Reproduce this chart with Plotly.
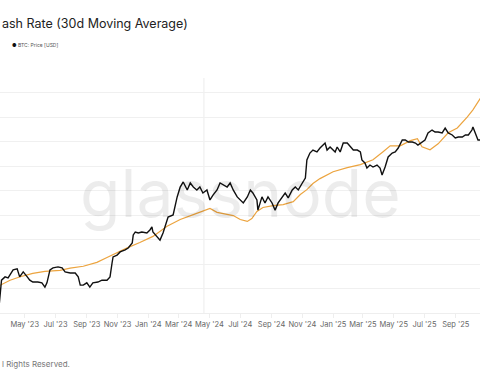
import plotly.graph_objects as go

# ---- data ----
btc_dates = ["2023-03-10","2023-03-13","2023-03-16","2023-03-23","2023-03-29","2023-04-08","2023-04-16","2023-04-21","2023-04-26","2023-04-28",
"2023-05-06","2023-05-11","2023-05-17","2023-05-27","2023-06-04","2023-06-10","2023-06-14","2023-06-20","2023-06-26","2023-07-06",
"2023-07-14","2023-07-20","2023-07-30","2023-08-09","2023-08-15","2023-08-19","2023-08-25","2023-09-01","2023-09-07","2023-09-13",
"2023-09-23","2023-10-01","2023-10-11","2023-10-17","2023-10-21","2023-10-23","2023-10-31","2023-11-06","2023-11-16","2023-11-22",
"2023-11-30","2023-12-02","2023-12-06","2023-12-12","2023-12-19","2023-12-29","2024-01-04","2024-01-08","2024-01-10","2024-01-18",
"2024-01-24","2024-01-30","2024-02-09","2024-02-19","2024-02-27","2024-03-04","2024-03-10","2024-03-18","2024-03-24","2024-03-30",
"2024-04-06","2024-04-12","2024-04-18","2024-04-26","2024-05-02","2024-05-08","2024-05-16","2024-05-22","2024-05-28","2024-06-05",
"2024-06-11","2024-06-17","2024-06-25","2024-07-01","2024-07-07","2024-07-15","2024-07-21","2024-07-26","2024-08-03","2024-08-05",
"2024-08-13","2024-08-19","2024-08-25","2024-09-02","2024-09-08","2024-09-14","2024-09-22","2024-09-28","2024-10-04","2024-10-12",
"2024-10-18","2024-10-24","2024-11-01","2024-11-07","2024-11-10","2024-11-16","2024-11-22","2024-11-30","2024-12-06","2024-12-16",
"2024-12-20","2024-12-26","2025-01-05","2025-01-09","2025-01-15","2025-01-21","2025-01-29","2025-02-04","2025-02-10","2025-02-18",
"2025-02-24","2025-02-27","2025-03-05","2025-03-09","2025-03-15","2025-03-21","2025-03-29","2025-04-04","2025-04-08","2025-04-14",
"2025-04-20","2025-04-28","2025-05-04","2025-05-10","2025-05-18","2025-05-24","2025-05-30","2025-06-07","2025-06-13","2025-06-18",
"2025-06-26","2025-07-02","2025-07-08","2025-07-16","2025-07-22","2025-07-28","2025-08-05","2025-08-11","2025-08-17","2025-08-25",
"2025-08-31","2025-09-06","2025-09-14","2025-09-20","2025-09-26","2025-10-03","2025-10-05","2025-10-09","2025-10-15","2025-10-21"]
btc_price = [20400,24600,27800,28700,28400,30700,31000,28700,29800,30100,
28700,27800,27300,27300,27100,26000,27100,30700,31300,31600,
31300,30100,29800,29800,28700,26500,26500,27100,26000,27100,
27300,27800,27800,28700,32800,34800,35400,36500,37200,37900,
39800,43000,44200,43800,44200,43800,45100,46400,44200,42100,
40900,43800,51100,52100,62000,68200,71600,66300,70900,68200,
66300,68200,64400,66300,60200,63100,66300,70900,69600,68200,
70900,66300,62000,60200,58500,62000,66300,64400,60200,54600,
62000,58500,62000,58500,54600,58500,62000,64400,61400,66300,
68200,66300,70900,74400,88500,94600,97400,95600,99300,104200,
97400,100300,95600,100300,95600,104200,104200,100300,97400,97400,
95600,88500,86000,81900,84300,82700,84300,81900,76600,82700,
91100,94600,95600,99300,107300,107300,105200,105200,104200,102200,
105200,107300,114800,118100,115900,115900,114800,120400,114800,112600,
109400,110400,110400,112600,112600,118100,121600,114800,107300,107300]

hash_dates = ["2023-03-09","2023-03-13","2023-04-02","2023-04-22","2023-05-17","2023-06-10","2023-07-10","2023-07-30","2023-08-25","2023-09-21",
"2023-10-11","2023-10-31","2023-11-20","2023-12-15","2024-01-10","2024-02-07","2024-03-04","2024-03-30","2024-04-26","2024-05-02",
"2024-05-16","2024-06-05","2024-06-17","2024-07-01","2024-07-15","2024-07-24","2024-08-03","2024-08-15","2024-09-04","2024-09-24",
"2024-10-14","2024-10-28","2024-11-10","2024-11-22","2024-12-06","2025-01-01","2025-01-29","2025-02-24","2025-03-21","2025-04-10",
"2025-04-24","2025-05-14","2025-06-03","2025-06-17","2025-06-26","2025-07-12","2025-07-28","2025-08-17","2025-09-04","2025-09-24",
"2025-10-05","2025-10-19","2025-10-25"]
hash_rate = [308,313,334,348,362,370,374,383,391,407,
427,448,466,488,513,554,582,602,623,627,
611,602,598,582,574,586,615,631,639,643,
655,684,704,729,749,777,794,806,826,859,
883,883,904,912,879,867,891,936,956,1001,
1030,1075,1090]

x_range = ["2023-03-13", "2025-10-19"]
halving_date = "2024-04-20"

title_text = "ash Rate (30d Moving Average)"
legend_text = "BTC: Price [USD]"
footer_text = "l Rights Reserved."
watermark = "glassnode"

HASH_COLOR = "#eca43f"
BTC_COLOR = "#111111"

fig = go.Figure()
fig.add_trace(go.Scatter(x=hash_dates, y=hash_rate, mode="lines", yaxis="y",
                         line=dict(color=HASH_COLOR, width=1.2), name="Hash Rate (30d MA)",
                         showlegend=False))
fig.add_trace(go.Scatter(x=btc_dates, y=btc_price, mode="lines", yaxis="y2",
                         line=dict(color=BTC_COLOR, width=1.4), name=legend_text,
                         showlegend=False))

fig.add_shape(type="line", xref="x", yref="paper", x0=halving_date, x1=halving_date,
              y0=0, y1=1, line=dict(color="#ececec", width=1), layer="below")

fig.add_annotation(text=watermark, xref="paper", yref="paper", x=0.5, y=0.51,
                   showarrow=False, font=dict(family="Inter, Noto Sans, sans-serif", size=66, color="rgba(0,0,0,0.075)"),
                   xanchor="center", yanchor="middle")

fig.add_annotation(text=title_text, xref="paper", yref="paper", x=0.0, y=1,
                   yshift=55, xanchor="left", yanchor="middle", showarrow=False,
                   font=dict(family="Inter, sans-serif", size=12.5, color="#222222"))
fig.add_annotation(text="<span style='color:#111'>●</span> " + legend_text, xref="paper", yref="paper",
                   x=0.02, y=1, yshift=33, xanchor="left", yanchor="middle", showarrow=False,
                   font=dict(family="Inter, sans-serif", size=5, color="#555555"))
fig.add_annotation(text=footer_text, xref="paper", yref="paper", x=0.0, y=0,
                   yshift=-51, xanchor="left", yanchor="middle", showarrow=False,
                   font=dict(family="Inter, sans-serif", size=8, color="#777777"))

fig.update_layout(
    width=480, height=384,
    margin=dict(l=0, r=0, t=78, b=71),
    paper_bgcolor="white", plot_bgcolor="white",
    showlegend=False,
    xaxis=dict(type="date", range=x_range, dtick="M2", tick0="2023-01-01",
               tickformat="%b '%y", showgrid=False, showline=True, linecolor="#eeeeee",
               ticks="outside", ticklen=4, tickcolor="#eeeeee",
               tickfont=dict(family="Inter, sans-serif", size=7.5, color="#666666"),
               zeroline=False),
    yaxis=dict(range=[200, 1160], dtick=100, tick0=0, showgrid=True, gridcolor="#f0f0f0",
               showticklabels=False, zeroline=False, ticks=""),
    yaxis2=dict(type="log", range=[4.3067, 5.290], overlaying="y", side="right",
                showgrid=False, showticklabels=False, zeroline=False, ticks=""),
)

fig.write_html("out.html", config={"displayModeBar": False},
               post_script="document.body.style.margin='0px';")
